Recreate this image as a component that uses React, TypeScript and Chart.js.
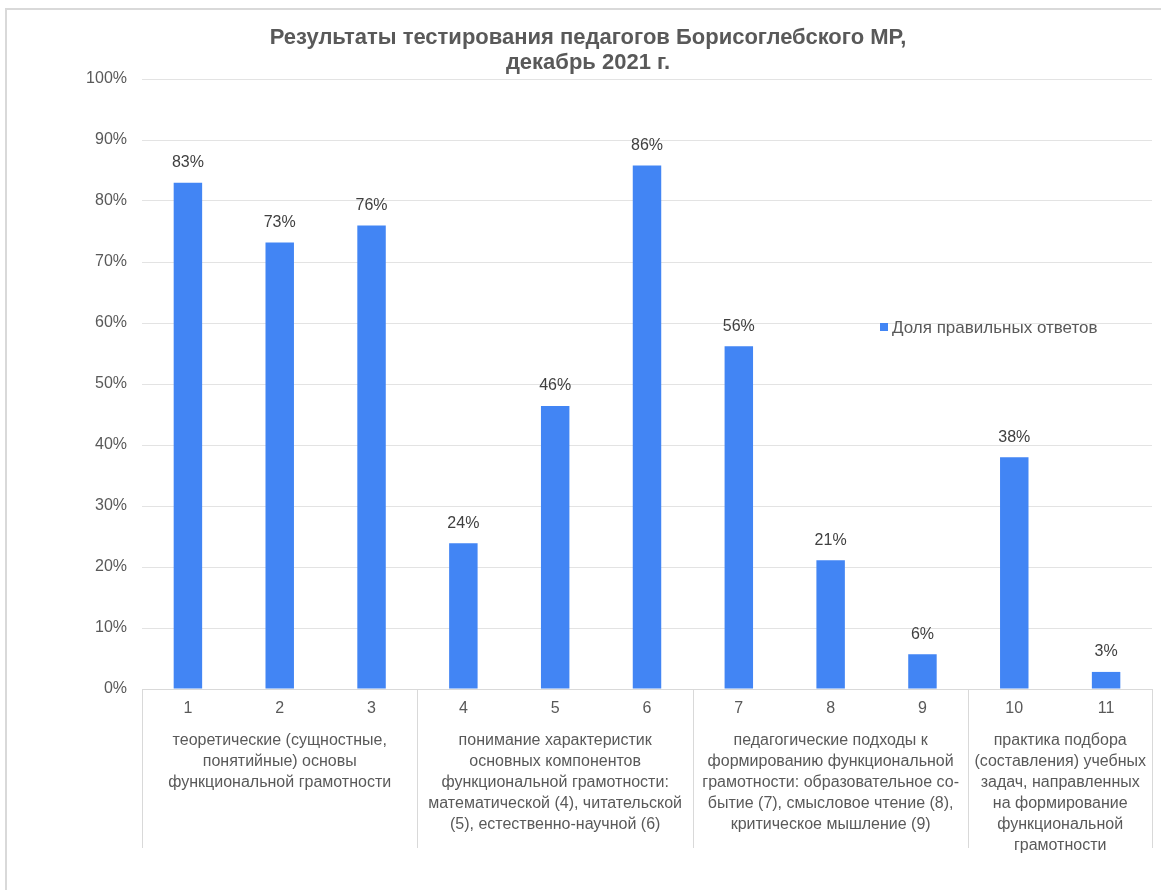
import React, { useEffect, useRef } from "react";
import { Chart, registerables } from "chart.js";

Chart.register(...registerables);

const categories = ["1", "2", "3", "4", "5", "6", "7", "8", "9", "10", "11"];
const shareCorrect = [83, 73.2, 76, 23.9, 46.4, 85.8, 56.2, 21.1, 5.7, 38, 2.8];
const seriesName = "Доля правильных ответов";
const titleLines = ["Результаты тестирования педагогов Борисоглебского МР,", "декабрь 2021 г."];
const groupSizes = [3, 3, 3, 2];
const groupLabels = [
  ["теоретические (сущностные,", "понятийные) основы", "функциональной грамотности"],
  ["понимание характеристик", "основных компонентов", "функциональной грамотности:", "математической (4), читательской", "(5), естественно-научной (6)"],
  ["педагогические подходы к", "формированию функциональной", "грамотности: образовательное со-", "бытие (7), смысловое чтение (8),", "критическое мышление (9)"],
  ["практика подбора", "(составления) учебных", "задач, направленных", "на формирование", "функциональной", "грамотности"],
];

const FONT = '"Liberation Sans", Arial, sans-serif';
const BAR = "#4285F4";
const TEXT = "#595959";
const GRID = "#e3e3e3";

const decor = {
  id: "decor",
  afterDraw(chart: any) {
    const ctx = chart.ctx;
    const area = chart.chartArea;
    const x = chart.scales.x;
    ctx.save();
    // frame
    ctx.fillStyle = "#d9d9d9";
    ctx.fillRect(5, 8, 1156, 2);
    ctx.fillRect(5, 8, 2, 882);
    // title
    ctx.fillStyle = TEXT;
    ctx.font = `bold 22px ${FONT}`;
    ctx.textAlign = "center";
    ctx.textBaseline = "middle";
    titleLines.forEach((t, i) => ctx.fillText(t, 588, 38 + i * 25));
    // data labels
    const meta = chart.getDatasetMeta(0);
    ctx.font = `16px ${FONT}`;
    ctx.fillStyle = "#404040";
    ctx.textBaseline = "middle";
    meta.data.forEach((el: any, i: number) => {
      ctx.fillText(Math.round(shareCorrect[i]) + "%", el.x, el.y - 20);
    });
    // legend
    ctx.fillStyle = BAR;
    ctx.fillRect(880, 323, 8, 8);
    ctx.fillStyle = TEXT;
    ctx.textAlign = "left";
    ctx.font = `17px ${FONT}`;
    ctx.fillText(seriesName, 892, 328);
    // group separators and labels
    const step = x.getPixelForValue(1) - x.getPixelForValue(0);
    let start = 0;
    ctx.strokeStyle = "#d9d9d9";
    ctx.lineWidth = 1;
    const edge = (idx: number) => x.getPixelForValue(0) - step / 2 + idx * step;
    const drawSep = (px: number) => {
      ctx.beginPath();
      ctx.moveTo(Math.round(px) + 0.5, area.bottom);
      ctx.lineTo(Math.round(px) + 0.5, 848);
      ctx.stroke();
    };
    drawSep(edge(0));
    ctx.fillStyle = TEXT;
    ctx.textAlign = "center";
    ctx.font = `16px ${FONT}`;
    groupSizes.forEach((n, g) => {
      const l = edge(start);
      const r = edge(start + n);
      drawSep(r);
      const cx = (l + r) / 2;
      groupLabels[g].forEach((line, k) => ctx.fillText(line, cx, 741 + k * 21));
      start += n;
    });
    ctx.restore();
  },
};

export default function App() {
  const ref = useRef<HTMLCanvasElement>(null);
  useEffect(() => {
    if (!ref.current) return;
    const chart = new Chart(ref.current, {
      type: "bar",
      data: {
        labels: categories,
        datasets: [
          {
            label: seriesName,
            data: shareCorrect,
            backgroundColor: BAR,
            barPercentage: 0.31,
            categoryPercentage: 1,
          },
        ],
      },
      options: {
        responsive: false,
        animation: false,
        layout: { padding: { top: 79, right: 9, left: 0, bottom: 0 } },
        plugins: { legend: { display: false }, tooltip: { enabled: false }, title: { display: false } },
        scales: {
          y: {
            min: 0,
            max: 100,
            ticks: {
              stepSize: 10,
              padding: 15,
              color: TEXT,
              font: { family: FONT, size: 16 },
              callback: (v: any) => v + "%",
            },
            grid: { color: GRID, drawTicks: false },
            border: { display: false },
            afterFit: (s: any) => { s.width = 142; },
          },
          x: {
            ticks: { padding: 10, color: TEXT, font: { family: FONT, size: 16 } },
            grid: { display: false, drawTicks: false },
            border: { display: true, color: "#d9d9d9" },
            afterFit: (s: any) => { s.height = 201; },
          },
        },
      },
      plugins: [decor],
    });
    return () => chart.destroy();
  }, []);
  return (
    <div style={{ position: "fixed", left: 0, top: 0, width: 1161, height: 890, background: "#fff" }}>
      <canvas ref={ref} width={1161} height={890} style={{ display: "block" }} />
    </div>
  );
}
